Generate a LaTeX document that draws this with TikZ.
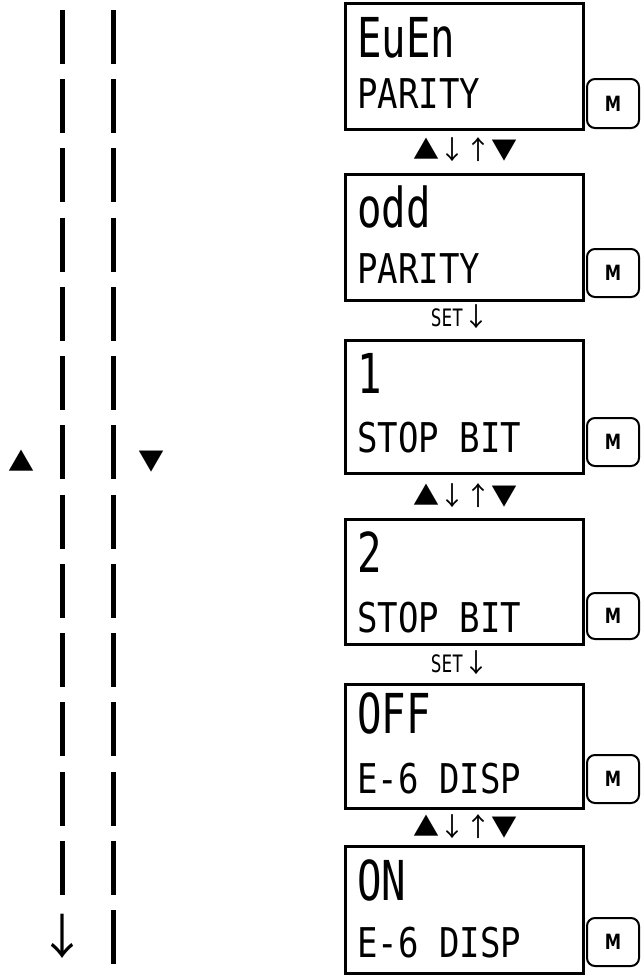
\documentclass[tikz,border=0pt]{standalone}
\usepackage{fontspec}
\newfontfamily\lcdL[FakeStretch=0.74]{DejaVu Sans Mono}
\newfontfamily\lcdS[FakeStretch=0.83]{DejaVu Sans Mono}
\newfontfamily\symf{Noto Sans CJK JP}
\newfontfamily\mfont[FakeStretch=0.78]{DejaVu Sans Bold}
\begin{document}
\begin{tikzpicture}[x=1pt,y=-1pt,
  lcdbox/.style={draw,line width=2.5pt,anchor=north west,inner sep=0pt},
  mbtn/.style={draw,line width=2pt,rounded corners=8pt,anchor=north west,inner sep=0pt,
     minimum width=52pt,font=\mfont\fontsize{21}{21}\selectfont},
  bigtxt/.style={anchor=base west,inner sep=0pt,font=\lcdL\fontsize{55}{55}\selectfont},
  smalltxt/.style={anchor=base west,inner sep=0pt,font=\lcdS\fontsize{41}{41}\selectfont},
  symtxt/.style={inner sep=0pt,font=\symf\fontsize{26}{26}\selectfont},
  bar/.style={line width=5pt,dash pattern=on 54pt off 15.23pt}]
\useasboundingbox (0,0) rectangle (643,978);

% left bars
\coordinate (l1) at (62,10);
\coordinate (l2) at (62,894.8);
\coordinate (r1) at (113,10);
\coordinate (r2) at (113,964);
\draw[bar] (l1) -- (l2);
\draw[bar] (r1) -- (r2);
\node[symtxt] (lup) at (22,461) {▲};
\node[symtxt] (ldn) at (151.5,462) {▼};
\node[inner sep=0pt,font=\symf\fontsize{48}{48}\selectfont] (larr) at (62,936) {↓};

% boxes
\node[lcdbox,minimum width=238pt,minimum height=126pt] (b1) at (344,2) {};
\node[lcdbox,minimum width=238pt,minimum height=126pt] (b2) at (344,173) {};
\node[lcdbox,minimum width=238pt,minimum height=133pt] (b3) at (344,339) {};
\node[lcdbox,minimum width=238pt,minimum height=125pt] (b4) at (344,518) {};
\node[lcdbox,minimum width=238pt,minimum height=124pt] (b5) at (344,683) {};
\node[lcdbox,minimum width=238pt,minimum height=127pt] (b6) at (344,845) {};

% texts
\node[bigtxt] (t1a) at (357,57) {EuEn};
\node[smalltxt] (t1b) at (357,108) {PARITY};
\node[bigtxt] (t2a) at (357,227) {odd};
\node[smalltxt] (t2b) at (357,283) {PARITY};
\node[bigtxt] (t3a) at (357,393) {1};
\node[smalltxt] (t3b) at (357,452) {STOP BIT};
\node[bigtxt] (t4a) at (357,572) {2};
\node[smalltxt] (t4b) at (357,632) {STOP BIT};
\node[bigtxt] (t5a) at (357,733) {OFF};
\node[smalltxt] (t5b) at (357,793) {E-6 DISP};
\node[bigtxt] (t6a) at (357,900) {ON};
\node[smalltxt] (t6b) at (357,957) {E-6 DISP};

% M buttons
\node[mbtn,minimum height=49pt] (m1) at (586,78) {M};
\node[mbtn,minimum height=48pt] (m2) at (586,248) {M};
\node[mbtn,minimum height=48pt] (m3) at (586,417) {M};
\node[mbtn,minimum height=46pt] (m4) at (586,592) {M};
\node[mbtn,minimum height=48pt] (m5) at (586,754) {M};
\node[mbtn,minimum height=48pt] (m6) at (586,917) {M};

% transitions
\node[symtxt] (a1) at (465,150) {▲↓↑▼};
\node[inner sep=0pt] (s2) at (460,317) {{\lcdL\fontsize{24}{24}\selectfont SET}{\symf\fontsize{26}{26}\selectfont ↓}};
\node[symtxt] (a3) at (465,496) {▲↓↑▼};
\node[inner sep=0pt] (s4) at (460,663) {{\lcdL\fontsize{24}{24}\selectfont SET}{\symf\fontsize{26}{26}\selectfont ↓}};
\node[symtxt] (a5) at (465,827) {▲↓↑▼};
\end{tikzpicture}
\end{document}
